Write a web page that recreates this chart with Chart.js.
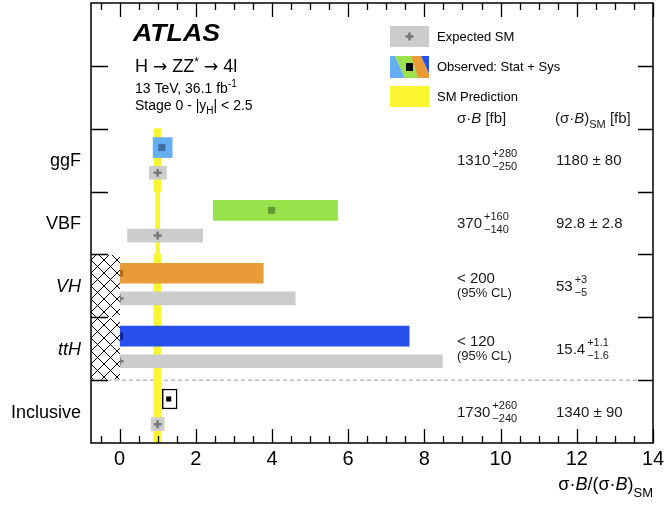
<!DOCTYPE html>
<html><head><meta charset="utf-8">
<script src="https://cdn.jsdelivr.net/npm/chart.js@4"></script>
<style>html,body{margin:0;padding:0;background:#fff}#wrap{width:669px;height:509px}</style>
</head><body><div id="wrap"><canvas id="c" width="669" height="509"></canvas></div>
<script>
// ---------------- data ----------------
const categories = ['ggF', 'VBF', 'VH', 'ttH', 'Inclusive'];
const italicLabels = [false, false, true, true, false];
const obsCentral = [1.11, 3.99, 0, 0, 1.29];
const obsLow     = [0.88, 2.46, 0, 0, 1.12];
const obsHigh    = [1.38, 5.72, 3.77, 7.60, 1.51];
const expCentral = [1, 1, 0, 0, 1];
const expLow     = [0.78, 0.21, 0, 0, 0.83];
const expHigh    = [1.23, 2.18, 4.61, 8.47, 1.17];
const smLow      = [0.91, 0.95, 0.90, 0.90, 0.90];
const smHigh     = [1.09, 1.05, 1.08, 1.08, 1.09];
const upperLimitOnly = [false, false, true, true, false];
const xTicks = [0, 2, 4, 6, 8, 10, 12, 14];
const xMin = -0.75, xMax = 14;

const obsMain = ['1310', '370', '< 200', '< 120', '1730'];
const obsUp   = ['+280', '+160', '', '', '+260'];
const obsDn   = ['\u2212250', '\u2212140', '', '', '\u2212240'];
const smMain  = ['1180 \u00b1 80', '92.8 \u00b1 2.8', '53', '15.4', '1340 \u00b1 90'];
const smUp    = ['', '', '+3', '+1.1', ''];
const smDn    = ['', '', '\u22125', '\u22121.6', ''];

// ---------------- styles ----------------
const obsFill   = ['#66aef4', '#9ae24b', '#e99b38', '#2650e9', '#ffffff'];
const obsBorder = ['#66aef4', '#9ae24b', '#e99b38', '#2650e9', '#000000'];
const obsBW     = [0, 0, 0, 0, 1.5];
const obsMark   = ['#3f6e9f', '#5f9b31', '#b36a1f', '#14238f', '#000000'];
const obsMarkR  = [5, 5, 5, 5, 3.6];
const YELLOW = '#fbf531', GREY = '#cccccc', PLUS = '#777777';
const FONT = "'Liberation Sans', Arial, Helvetica, sans-serif";
const ARROWFONT = "'DejaVu Sans', sans-serif";
const ROW0 = 2; // first data row (two rows reserved on top)

function hatchPattern() {
  const n = 13;
  const p = document.createElement('canvas'); p.width = n; p.height = n;
  const g = p.getContext('2d');
  g.fillStyle = '#fff'; g.fillRect(0, 0, n, n);
  g.strokeStyle = '#000'; g.lineWidth = 1;
  g.beginPath();
  g.moveTo(-1, -1); g.lineTo(n + 1, n + 1);
  g.moveTo(n + 1, -1); g.lineTo(-1, n + 1);
  g.stroke();
  return g.createPattern(p, 'repeat');
}

const rowC = i => ROW0 + i + 0.5;

const datasets = [
  { // SM prediction band
    type: 'bar', order: 10, grouped: false, barThickness: 63,
    backgroundColor: YELLOW, borderWidth: 0,
    data: categories.map((c, i) => ({ y: rowC(i), x: [smLow[i], smHigh[i]] }))
  },
  { // expected
    type: 'bar', order: 8, grouped: false, barThickness: 13,
    backgroundColor: GREY, borderWidth: 0,
    data: categories.map((c, i) => ({ y: rowC(i) + 0.2, x: [expLow[i], expHigh[i]] }))
  },
  { // observed
    type: 'bar', order: 7, grouped: false, barThickness: 20,
    backgroundColor: obsFill, borderColor: obsBorder, borderWidth: obsBW, borderSkipped: false,
    data: categories.map((c, i) => ({ y: rowC(i) - 0.2, x: [obsLow[i], obsHigh[i]] }))
  },
  { // expected markers
    type: 'scatter', order: 5, pointStyle: 'cross', pointRadius: 4, borderWidth: 2.5,
    borderColor: PLUS, backgroundColor: PLUS,
    data: categories.map((c, i) => ({ x: expCentral[i], y: rowC(i) + 0.2 }))
  },
  { // observed markers
    type: 'scatter', order: 4, pointStyle: 'rect', pointRadius: obsMarkR, borderWidth: 0,
    backgroundColor: obsMark, borderColor: obsMark,
    data: categories.map((c, i) => ({ x: obsCentral[i], y: rowC(i) - 0.2 }))
  },
  { // hatched unphysical region for limit-only rows
    type: 'bar', order: 1, grouped: false, barThickness: 61,
    backgroundColor: hatchPattern(), borderWidth: 0,
    data: categories.map((c, i) => upperLimitOnly[i] ? ({ y: rowC(i), x: [xMin, 0] }) : null).filter(d => d)
  }
];

function segsWidth(ctx, segs) {
  let w = 0;
  for (const s of segs) { ctx.font = s.font; w += ctx.measureText(s.t).width; }
  return w;
}
function drawSegs(ctx, x, y, segs, align) {
  let cx = align === 'right' ? x - segsWidth(ctx, segs) : x;
  ctx.textAlign = 'left'; ctx.textBaseline = 'alphabetic';
  for (const s of segs) {
    ctx.font = s.font;
    ctx.fillText(s.t, cx, y + (s.dy || 0));
    cx += ctx.measureText(s.t).width;
  }
}
function drawScript(ctx, x, yb, main, up, dn) {
  ctx.textAlign = 'left'; ctx.textBaseline = 'alphabetic';
  ctx.font = '15px ' + FONT;
  ctx.fillText(main, x, yb);
  const w = ctx.measureText(main).width;
  ctx.font = '11px ' + FONT;
  if (up) ctx.fillText(up, x + w + 2, yb - 8);
  if (dn) ctx.fillText(dn, x + w + 2, yb + 5);
}

const decor = {
  id: 'decor',
  beforeDatasetsDraw(chart) {
    const ctx = chart.ctx, ys = chart.scales.y, a = chart.chartArea;
    const yd = ys.getPixelForValue(ROW0 + 4);
    ctx.save();
    ctx.strokeStyle = '#9a9a9a'; ctx.lineWidth = 1; ctx.setLineDash([4, 3]);
    ctx.beginPath(); ctx.moveTo(a.left + 17, yd); ctx.lineTo(a.right - 15, yd); ctx.stroke();
    ctx.restore();
  },
  afterDraw(chart) {
    const ctx = chart.ctx, xs = chart.scales.x, ys = chart.scales.y, a = chart.chartArea;
    ctx.save();
    ctx.strokeStyle = '#000'; ctx.fillStyle = '#000';
    ctx.lineWidth = 1.5;
    ctx.strokeRect(a.left, a.top, a.right - a.left, a.bottom - a.top);
    ctx.lineWidth = 1.3;
    ctx.beginPath();
    for (let v = -0.5; v <= xMax + 1e-9; v += 0.5) {
      const px = Math.round(xs.getPixelForValue(v)) + 0.5;
      const major = Math.abs(v / 2 - Math.round(v / 2)) < 1e-9;
      const L = major ? 14 : 7;
      ctx.moveTo(px, a.bottom); ctx.lineTo(px, a.bottom - L);
      ctx.moveTo(px, a.top); ctx.lineTo(px, a.top + L);
    }
    for (let k = 1; k < ROW0 + categories.length; k++) {
      const py = Math.round(ys.getPixelForValue(k)) + 0.5;
      ctx.moveTo(a.left, py); ctx.lineTo(a.left + 17, py);
      ctx.moveTo(a.right, py); ctx.lineTo(a.right - 15, py);
    }
    ctx.stroke();

    ctx.textAlign = 'right'; ctx.textBaseline = 'middle';
    categories.forEach((c, i) => {
      ctx.font = (italicLabels[i] ? 'italic ' : '') + '18px ' + FONT;
      ctx.fillText(c, a.left - 10, ys.getPixelForValue(rowC(i)) + 1);
    });

    ctx.fillStyle = '#1a1a1a';
    const c1 = 457, c2 = 556;
    categories.forEach((c, i) => {
      const yc = ys.getPixelForValue(rowC(i));
      if (upperLimitOnly[i]) {
        ctx.font = '15px ' + FONT; ctx.textAlign = 'left'; ctx.textBaseline = 'alphabetic';
        ctx.fillText(obsMain[i], c1, yc - 3);
        ctx.font = '13px ' + FONT;
        ctx.fillText('(95% CL)', c1, yc + 11);
      } else {
        drawScript(ctx, c1, yc + 5, obsMain[i], obsUp[i], obsDn[i]);
      }
      drawScript(ctx, c2, yc + 5, smMain[i], smUp[i], smDn[i]);
    });
    const f15 = '15px ' + FONT, f15i = 'italic 15px ' + FONT, f11 = '11px ' + FONT;
    drawSegs(ctx, c1, 123, [{t: '\u03c3\u00b7', font: f15}, {t: 'B', font: f15i}, {t: ' [fb]', font: f15}]);
    drawSegs(ctx, c2 - 1, 123, [{t: '(\u03c3\u00b7', font: f15}, {t: 'B', font: f15i}, {t: ')', font: f15},
      {t: 'SM', font: f11, dy: 5}, {t: ' [fb]', font: f15}]);

    // ATLAS label block
    ctx.fillStyle = '#000';
    ctx.save();
    ctx.font = 'bold italic 23px ' + FONT;
    const aw = ctx.measureText('ATLAS').width;
    ctx.translate(133, 41); ctx.scale(87 / aw, 1);
    ctx.textAlign = 'left'; ctx.textBaseline = 'alphabetic';
    ctx.fillText('ATLAS', 0, 0);
    ctx.restore();
    const f17 = '18px ' + FONT, fa = '17px ' + ARROWFONT, f12 = '12px ' + FONT, f14 = '14px ' + FONT, f10 = '10px ' + FONT;
    drawSegs(ctx, 135, 72, [{t: 'H ', font: f17}, {t: '\u2192', font: fa}, {t: ' ZZ', font: f17}, {t: '*', font: f12, dy: -6},
      {t: ' ', font: f17}, {t: '\u2192', font: fa}, {t: ' 4l', font: f17}]);
    drawSegs(ctx, 135, 93, [{t: '13 TeV, 36.1 fb', font: f14}, {t: '-1', font: f10, dy: -6}]);
    drawSegs(ctx, 135, 110, [{t: 'Stage 0 - |y', font: f14}, {t: 'H', font: f10, dy: 4}, {t: '| < 2.5', font: f14}]);

    // legend
    const lx = 390, lw = 39, lh = 21;
    ctx.fillStyle = GREY; ctx.fillRect(lx, 26, lw, lh);
    ctx.strokeStyle = PLUS; ctx.lineWidth = 2.5;
    ctx.beginPath(); ctx.moveTo(lx + lw / 2 - 4, 36.5); ctx.lineTo(lx + lw / 2 + 4, 36.5);
    ctx.moveTo(lx + lw / 2, 32.5); ctx.lineTo(lx + lw / 2, 40.5); ctx.stroke();
    const y0 = 56, y1 = 78;
    ctx.save();
    ctx.beginPath(); ctx.rect(lx, y0, lw, y1 - y0); ctx.clip();
    const tops = [lx - 20, lx + 5, lx + 21, lx + 31, lx + 60];
    const bots = [lx - 20, lx + 15, lx + 28, lx + 41, lx + 60];
    for (let k = 0; k < 4; k++) {
      ctx.fillStyle = obsFill[k];
      ctx.beginPath();
      ctx.moveTo(tops[k], y0); ctx.lineTo(tops[k + 1], y0);
      ctx.lineTo(bots[k + 1], y1); ctx.lineTo(bots[k], y1); ctx.closePath(); ctx.fill();
    }
    ctx.restore();
    ctx.fillStyle = '#000'; ctx.fillRect(lx + 16, 63, 7, 8);
    ctx.fillStyle = YELLOW; ctx.fillRect(lx, 86, lw, lh);
    ctx.fillStyle = '#000'; ctx.font = '13px ' + FONT; ctx.textAlign = 'left'; ctx.textBaseline = 'middle';
    ctx.fillText('Expected SM', 437, 37);
    ctx.fillText('Observed: Stat + Sys', 437, 67);
    ctx.fillText('SM Prediction', 437, 97);

    const f18 = '18px ' + FONT, f18i = 'italic 18px ' + FONT, f13 = '13px ' + FONT;
    drawSegs(ctx, a.right, 490, [{t: '\u03c3\u00b7', font: f18}, {t: 'B', font: f18i}, {t: '/(\u03c3\u00b7', font: f18},
      {t: 'B', font: f18i}, {t: ')', font: f18}, {t: 'SM', font: f13, dy: 7}], 'right');
    ctx.restore();
  }
};

new Chart(document.getElementById('c'), {
  type: 'bar',
  data: { datasets },
  options: {
    indexAxis: 'y',
    responsive: false,
    animation: false,
    events: [],
    layout: { autoPadding: false, padding: { left: 91, right: 16, top: 3, bottom: 0 } },
    plugins: { legend: { display: false }, tooltip: { enabled: false } },
    scales: {
      x: {
        type: 'linear', min: xMin, max: xMax, offset: false,
        grid: { display: false, drawTicks: false }, border: { display: false },
        afterBuildTicks: s => { s.ticks = xTicks.map(v => ({ value: v })); },
        afterFit: s => { s.height = 66; },
        ticks: { autoSkip: false, maxRotation: 0, padding: 4, color: '#000',
                 font: { family: FONT, size: 20 } }
      },
      y: { type: 'linear', min: 0, max: ROW0 + categories.length, reverse: true, display: false,
           offset: false, grid: { offset: false } }
    }
  },
  plugins: [decor]
});
</script>
</body></html>
